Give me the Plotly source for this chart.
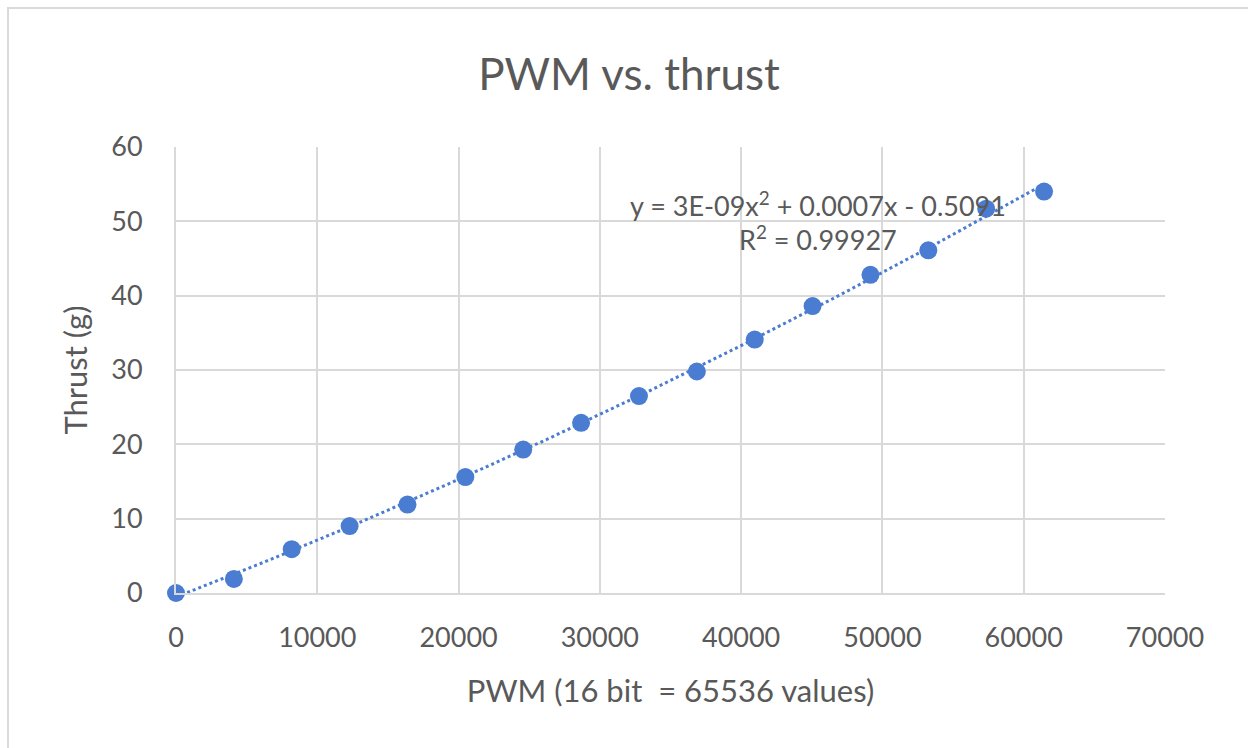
import numpy as np
import plotly.graph_objects as go

# Data
pwm = [0, 4096, 8192, 12288, 16384, 20480, 24576, 28672, 32768, 36864,
       40960, 45056, 49152, 53248, 57344, 61440]
thrust = [0.0, 1.9, 5.9, 9.0, 11.9, 15.6, 19.3, 22.9, 26.5, 29.8,
          34.1, 38.6, 42.8, 46.1, 51.7, 54.0]
x_ticks = [0, 10000, 20000, 30000, 40000, 50000, 60000, 70000]
y_ticks = [0, 10, 20, 30, 40, 50, 60]
title_text = "PWM vs. thrust"
x_title = "PWM (16 bit  = 65536 values)"
y_title = "Thrust (g)"
eq_line1 = "y = 3E-09x<sup>2</sup> + 0.0007x - 0.5091"
eq_line2 = "R<sup>2</sup> = 0.99927"

FONT = "Lato"
TXT = "#595959"
GRID = "#D9D9D9"
BLUE = "#4A7DD1"

# Polynomial (order 2) trendline fitted from the data
coef = np.polyfit(pwm, thrust, 2)
xt = np.linspace(min(pwm), max(pwm), 200)
yt = np.polyval(coef, xt)

fig = go.Figure()
fig.add_trace(go.Scatter(x=xt, y=yt, mode="lines",
                         line=dict(color=BLUE, width=3, dash="dot"),
                         hoverinfo="skip", showlegend=False, cliponaxis=False))
fig.add_trace(go.Scatter(x=pwm, y=thrust, mode="markers",
                         marker=dict(color=BLUE, size=18),
                         showlegend=False, cliponaxis=False))

W, H = 1248, 748
L, R, T, B = 176, 1165, 147, 593
pw, ph = R - L, B - T

def px(xp):
    return (xp - L) / pw

def py(yp):
    return (B - yp) / ph

fig.add_shape(type="rect", xref="paper", yref="paper",
              x0=px(8), x1=px(1260), y0=py(760), y1=py(8),
              line=dict(color="#DADADA", width=2), layer="below")

fig.add_annotation(text=eq_line1, xref="paper", yref="paper",
                   x=px(818), y=py(204), xanchor="center", yanchor="middle",
                   showarrow=False,
                   font=dict(family=FONT, size=27, color=TXT))
fig.add_annotation(text=eq_line2, xref="paper", yref="paper",
                   x=px(818), y=py(238), xanchor="center", yanchor="middle",
                   showarrow=False,
                   font=dict(family=FONT, size=27, color=TXT))

fig.update_layout(
    width=W, height=H,
    margin=dict(l=L, r=W - R, t=T, b=H - B),
    paper_bgcolor="white", plot_bgcolor="white",
    title=dict(text=title_text, x=629 / W, xref="container", xanchor="center",
               y=1 - 75 / H, yref="container", yanchor="middle",
               font=dict(family=FONT, size=44, color=TXT)),
    font=dict(family=FONT, color=TXT),
)
fig.update_xaxes(range=[0, 70000], tickvals=x_ticks,
                 ticktext=[str(v) for v in x_ticks],
                 showgrid=True, gridcolor=GRID, gridwidth=2,
                 zeroline=False, showline=True, linecolor=GRID, linewidth=2,
                 ticks="", ticklabelstandoff=20,
                 tickfont=dict(family=FONT, size=27, color=TXT),
                 title=dict(text=x_title, standoff=28,
                            font=dict(family=FONT, size=31, color=TXT)))
fig.update_yaxes(range=[0, 60], tickvals=y_ticks,
                 showgrid=True, gridcolor=GRID, gridwidth=2,
                 zeroline=False, showline=True, linecolor=GRID, linewidth=2,
                 ticks="", ticklabelstandoff=26,
                 tickfont=dict(family=FONT, size=27, color=TXT),
                 title=dict(text=y_title, standoff=14,
                            font=dict(family=FONT, size=31, color=TXT)))

fig.write_html("out.html", config={"displayModeBar": False},
               post_script="document.body.style.margin='0';document.body.style.overflow='hidden';")
